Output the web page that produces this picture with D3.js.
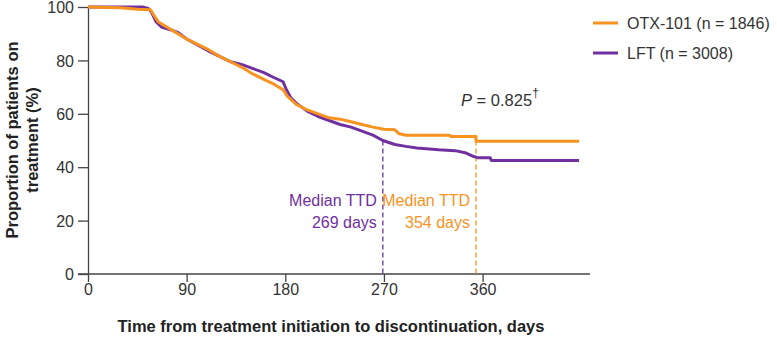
<!DOCTYPE html>
<html>
<head>
<meta charset="utf-8">
<script src="https://d3js.org/d3.v7.min.js"></script>
<style>
    body { margin: 0; background: #fff; }
    svg text { font-family: "Liberation Sans", Arial, sans-serif; fill: #333; }
</style>
</head>
<body>
<div id="chart"></div>
<script>
    // time to discontinuation, [day, % on treatment]
    var otxPoints = [[0,100],[30,99.7],[45,99.2],[57,99],[60,97],[64,94.5],[70,93],[80,90.5],[90,88],[100,86],
        [110,84],[120,81.5],[130,79.5],[140,77.5],[150,75],[160,73],[170,71],[178,69],[182,66.5],[190,63.5],
        [200,61.5],[210,60],[220,58.5],[230,58],[240,57],[250,56],[260,55],[270,54.2],[280,54],[284,52.5],
        [290,52],[330,52],[331,51.5],[354,51.5],[354,49.7],[448,49.7]];
    var lftPoints = [[0,100],[50,100],[55,99.5],[58,98],[62,94.5],[67,92.5],[75,91.5],[82,90.5],[90,88],[100,85.8],
        [110,83.5],[120,81.5],[130,79.5],[140,78.5],[150,77],[160,75.5],[170,73.5],[178,72],[181,69],[185,66],
        [190,64],[200,61],[210,59],[220,57.5],[230,56],[240,55],[250,53.5],[260,52],[269,50],[280,48.5],
        [290,47.8],[300,47.2],[320,46.5],[335,46.2],[345,45.3],[352,44],[356,43.5],[367,43.5],[368,42.5],[448,42.5]];

    var seriesNames = ["OTX-101 (n = 1846)", "LFT (n = 3008)"];
    var seriesColors = ["#f7931e", "#7030a0"];
    var medianDays = [269, 354];
    var medianLabels = [["Median TTD", "269 days"], ["Median TTD", "354 days"]];
    var xTicks = [0, 90, 180, 270, 360];
    var yTicks = [0, 20, 40, 60, 80, 100];

    var width = 777, height = 339;
    var plotL = 88, plotR = 590, plotT = 7, plotB = 274;

    var svg = d3.select("#chart").append("svg")
        .attr("width", width).attr("height", height);

    var xScale = d3.scaleLinear().domain([0, 458]).range([plotL, plotR]);
    var yScale = d3.scaleLinear().domain([0, 100]).range([plotB, plotT]);

    // axes
    var xAxis = svg.append("g")
        .attr("transform", "translate(0," + plotB + ")")
        .call(d3.axisBottom(xScale).tickValues(xTicks).tickSize(8).tickPadding(2).tickSizeOuter(0));
    var yAxis = svg.append("g")
        .attr("transform", "translate(" + plotL + ",0)")
        .call(d3.axisLeft(yScale).tickValues(yTicks).tickSize(10).tickPadding(4).tickSizeOuter(0));

    [xAxis, yAxis].forEach(function (g) {
        g.select(".domain").attr("stroke", "#444").attr("stroke-width", 1.3);
        g.selectAll(".tick line").attr("stroke", "#444").attr("stroke-width", 1.3);
        g.selectAll(".tick text").style("font-size", "16px").attr("fill", "#333");
    });
    xAxis.select(".domain").attr("d", "M" + (plotL - 10) + ",0H" + plotR);
    yAxis.selectAll(".tick text").attr("dy", "0.36em");

    svg.append("text")
        .attr("x", 331).attr("y", 332)
        .attr("text-anchor", "middle")
        .style("font-size", "16.5px").style("font-weight", "bold")
        .style("fill", "#222")
        .text("Time from treatment initiation to discontinuation, days");

    var yTitle = svg.append("text")
        .attr("transform", "translate(0,140) rotate(-90)")
        .attr("text-anchor", "middle")
        .style("font-size", "16.5px").style("font-weight", "bold")
        .style("fill", "#222");
    yTitle.append("tspan").attr("x", 0).attr("y", 18).text("Proportion of patients on");
    yTitle.append("tspan").attr("x", 0).attr("y", 38).text("treatment (%)");

    // median dashed lines
    medianDays.forEach(function (d, i) {
        var c = i == 0 ? seriesColors[1] : seriesColors[0];
        svg.append("line")
            .attr("x1", xScale(d)).attr("x2", xScale(d))
            .attr("y1", yScale(50)).attr("y2", plotB)
            .attr("stroke", c).attr("stroke-width", 1.3)
            .attr("stroke-dasharray", "5,3");
        var t = svg.append("text")
            .attr("text-anchor", "end")
            .style("font-size", "16px")
            .style("fill", c);
        t.append("tspan").attr("x", xScale(d) - 6).attr("y", 206).text(medianLabels[i][0]);
        t.append("tspan").attr("x", xScale(d) - 6).attr("y", 228).text(medianLabels[i][1]);
    });

    // curves
    var line = d3.line()
        .x(function (d) { return xScale(d[0]); })
        .y(function (d) { return yScale(d[1]); });

    [lftPoints, otxPoints].forEach(function (pts, i) {
        svg.append("path")
            .datum(pts)
            .attr("d", line)
            .attr("fill", "none")
            .attr("stroke", i == 0 ? seriesColors[1] : seriesColors[0])
            .attr("stroke-width", 3)
            .attr("stroke-linejoin", "round");
    });

    // legend
    seriesNames.forEach(function (name, i) {
        var y = 23 + i * 30;
        svg.append("line")
            .attr("x1", 593).attr("x2", 618)
            .attr("y1", y).attr("y2", y)
            .attr("stroke", seriesColors[i]).attr("stroke-width", 3);
        svg.append("text")
            .attr("x", 627).attr("y", y + 6)
            .style("font-size", "16px")
            .text(name);
    });

    // p value
    var p = svg.append("text")
        .attr("x", 461).attr("y", 106)
        .style("font-size", "16.5px");
    p.append("tspan").style("font-style", "italic").text("P");
    p.append("tspan").text(" = 0.825");
    p.append("tspan").attr("dy", -9).style("font-size", "12px").text("\u2020");
</script>
</body>
</html>
